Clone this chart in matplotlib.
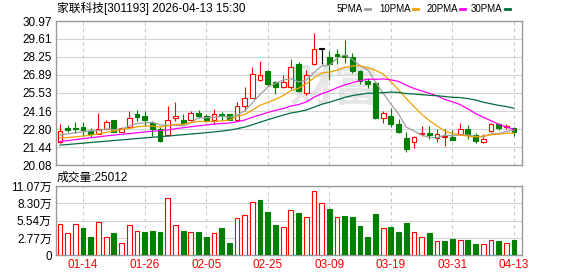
import matplotlib
matplotlib.use("Agg")
import numpy as np
import matplotlib.pyplot as plt
from matplotlib.lines import Line2D

plt.rcParams['font.family'] = ['Liberation Sans', 'Noto Sans CJK SC']

TITLE = "家联科技[301193] 2026-04-13 15:30"
DATE_IDX = [3, 11, 19, 27, 35, 43, 51, 59]
DATE_LABELS = ["01-14", "01-26", "02-05", "02-25", "03-09", "03-19", "03-31", "04-13"]
PRICE_TICKS = [20.08, 21.44, 22.80, 24.16, 25.53, 26.89, 28.25, 29.61, 30.97]
VOL_TICKS = [0, 2.77, 5.54, 8.30, 11.07]
VOL_TICK_LABELS = ["0", "2.77万", "5.54万", "8.30万", "11.07万"]

# daily candles, 60 sessions (01-09 .. 04-13)
OPEN = [21.84, 22.87, 22.85, 22.92, 22.67, 22.44, 22.84, 23.47, 22.59, 22.97,
        23.93, 23.80, 23.22, 22.84, 22.34, 23.60, 23.45, 23.52, 24.00, 23.78,
        23.52, 23.93, 23.90, 23.45, 24.56, 25.18, 26.52, 27.17, 26.37, 26.01,
        25.96, 27.75, 25.49, 27.70, 28.88, 28.28, 28.45, 28.43, 28.23, 27.20,
        26.44, 26.27, 23.60, 23.78, 23.17, 22.09, 21.84, 22.39, 22.49, 22.14,
        22.16, 22.19, 22.42, 22.84, 22.34, 21.79, 22.67, 23.17, 22.94, 22.89]
HIGH = [23.17, 23.10, 23.30, 23.35, 22.90, 24.03, 23.45, 23.50, 22.94, 24.15,
        24.23, 24.15, 23.40, 22.97, 24.56, 24.81, 23.90, 24.13, 24.23, 23.90,
        24.33, 24.10, 23.93, 24.81, 25.99, 27.50, 27.95, 27.25, 26.47, 26.87,
        28.08, 27.88, 27.30, 30.06, 28.96, 28.68, 28.88, 29.54, 28.53, 27.25,
        26.67, 26.37, 24.15, 24.40, 23.55, 22.54, 22.29, 23.02, 23.02, 22.77,
        22.77, 22.69, 23.27, 23.10, 22.47, 22.42, 23.22, 23.22, 23.20, 22.97]
LOW = [21.71, 22.54, 22.47, 22.29, 22.19, 22.39, 22.79, 22.54, 22.54, 22.92,
       23.40, 23.05, 22.29, 21.79, 22.29, 23.40, 23.10, 23.40, 23.60, 23.30,
       23.15, 23.45, 23.45, 23.40, 24.18, 25.11, 26.42, 26.04, 25.46, 25.91,
       25.86, 25.61, 25.41, 27.62, 27.70, 26.54, 27.75, 27.80, 27.00, 26.24,
       25.91, 23.55, 23.22, 22.97, 22.52, 21.03, 21.33, 22.29, 22.04, 21.84,
       21.54, 21.99, 22.34, 22.07, 21.76, 21.74, 22.59, 22.72, 22.77, 22.29]
CLOSE = [22.67, 22.74, 22.83, 22.72, 22.39, 22.77, 23.30, 22.59, 22.89, 23.60,
         23.73, 23.47, 22.84, 21.89, 23.45, 23.78, 23.25, 23.98, 23.80, 23.45,
         23.90, 23.78, 23.50, 24.56, 25.11, 26.97, 26.92, 26.22, 26.01, 26.37,
         27.52, 25.66, 26.92, 28.88, 28.88, 27.72, 28.30, 28.25, 27.20, 26.42,
         26.19, 23.67, 24.05, 23.17, 22.59, 21.26, 22.19, 22.49, 22.34, 22.42,
         22.24, 21.99, 22.77, 22.34, 21.91, 22.01, 23.17, 22.89, 23.05, 22.54]
# volume in 万手
VOLUME = [4.95, 3.51, 4.95, 4.36, 2.93, 5.27, 2.87, 3.57, 1.92, 4.79,
          3.83, 3.73, 3.89, 3.73, 9.10, 4.79, 3.89, 3.67, 3.73, 2.93,
          3.51, 4.36, 1.97, 5.91, 6.39, 8.46, 8.83, 6.97, 4.84, 4.52,
          7.24, 6.76, 6.07, 10.22, 8.30, 7.40, 6.07, 6.28, 6.12, 4.68,
          2.93, 6.60, 4.31, 4.52, 3.73, 5.16, 3.67, 2.87, 3.57, 2.24,
          2.29, 2.61, 2.45, 2.50, 1.81, 1.76, 2.45, 2.29, 1.97, 2.5012]

MA5 = [22.35, 22.43, 22.52, 22.60, 22.67, 22.69, 22.80, 22.75, 22.79, 23.03,
       23.22, 23.26, 23.31, 23.11, 23.08, 23.09, 23.04, 23.27, 23.65, 23.65,
       23.68, 23.78, 23.69, 23.84, 24.17, 24.78, 25.41, 25.96, 26.25, 26.50,
       26.61, 26.36, 26.50, 27.07, 27.57, 27.61, 28.14, 28.41, 28.07, 27.58,
       27.27, 26.35, 25.51, 24.70, 23.93, 22.95, 22.65, 22.34, 22.17, 22.14,
       22.34, 22.30, 22.35, 22.35, 22.25, 22.20, 22.44, 22.46, 22.61, 22.73]
MA10 = [22.12, 22.16, 22.21, 22.27, 22.34, 22.43, 22.55, 22.66, 22.76, 22.85,
        22.96, 23.03, 23.03, 22.95, 23.05, 23.15, 23.15, 23.29, 23.38, 23.36,
        23.38, 23.41, 23.48, 23.75, 23.91, 24.23, 24.60, 24.82, 25.04, 25.33,
        25.70, 25.88, 26.23, 26.66, 27.04, 27.11, 27.25, 27.45, 27.57, 27.58,
        27.44, 27.24, 26.96, 26.39, 25.76, 25.11, 24.50, 23.92, 23.44, 23.04,
        22.64, 22.47, 22.35, 22.26, 22.20, 22.27, 22.37, 22.41, 22.48, 22.49]
MA20 = [21.85, 21.93, 22.00, 22.07, 22.14, 22.21, 22.28, 22.34, 22.40, 22.45,
        22.52, 22.58, 22.63, 22.68, 22.74, 22.82, 22.90, 22.97, 23.04, 23.11,
        23.17, 23.22, 23.25, 23.35, 23.48, 23.69, 23.87, 24.05, 24.21, 24.35,
        24.54, 24.65, 24.85, 25.20, 25.47, 25.67, 25.92, 26.14, 26.31, 26.45,
        26.57, 26.56, 26.59, 26.52, 26.40, 26.11, 25.87, 25.69, 25.50, 25.31,
        25.04, 24.86, 24.65, 24.32, 23.98, 23.69, 23.43, 23.17, 22.96, 22.76]
MA30 = [21.58, 21.63, 21.68, 21.73, 21.78, 21.83, 21.88, 21.93, 21.98, 22.03,
        22.08, 22.13, 22.18, 22.22, 22.27, 22.32, 22.37, 22.42, 22.47, 22.52,
        22.58, 22.64, 22.72, 22.82, 22.95, 23.12, 23.32, 23.50, 23.68, 23.85,
        24.01, 24.11, 24.24, 24.45, 24.67, 24.83, 25.00, 25.19, 25.33, 25.42,
        25.51, 25.51, 25.55, 25.60, 25.57, 25.48, 25.45, 25.40, 25.35, 25.32,
        25.26, 25.20, 25.18, 25.10, 25.00, 24.83, 24.71, 24.59, 24.50, 24.37]

MA_NAMES = ["5PMA", "10PMA", "20PMA", "30PMA"]
MA_COLORS = ["#a0a0a0", "#f0a000", "#ff00ff", "#006e3c"]

RED = "#ff0000"
GREEN = "#008000"
FRAME = "#999999"
GRID = "#d4d4d4"

W, H = 578, 276
fig = plt.figure(figsize=(W / 100, H / 100), dpi=100)
ax = fig.add_axes([56 / W, 1 - 165 / H, 466 / W, 144 / H])
axv = fig.add_axes([56 / W, 1 - 255.3 / H, 466 / W, 69.3 / H])

o = np.array(OPEN)
c = np.array(CLOSE)
x = np.arange(len(c))

cand_col = np.where(c > o, RED, np.where(c < o, GREEN, "#000000"))
cand_face = np.where(c > o, "white", cand_col)

ax.vlines(x, LOW, HIGH, colors=cand_col, linewidth=0.8, zorder=2)
body = np.maximum(np.abs(c - o), 0.02)
ax.bar(x, body, bottom=np.minimum(o, c), width=0.62, facecolor=cand_face,
       edgecolor=cand_col, linewidth=0.8, zorder=3)

for vals, col in zip([MA5, MA10, MA20, MA30], MA_COLORS):
    ax.plot(x, vals, color=col, linewidth=0.9, zorder=4)

# faint watermark behind the candles
ax.text(35.6, 25.9, "财富", fontsize=32, fontweight="bold", color="#e6e6e6",
        ha="center", va="center", zorder=0.5,
        family=['Noto Sans CJK SC'])

prev = np.concatenate([[c[0]], c[:-1]])
vol_col = np.where(c >= prev, RED, GREEN)
vol_face = np.where(c >= prev, "white", GREEN)
axv.bar(x, VOLUME, width=0.62, facecolor=vol_face, edgecolor=vol_col,
        linewidth=0.8, zorder=3)

for a in (ax, axv):
    a.set_xlim(-0.52, 60.04)
    a.set_xticks(DATE_IDX)
    a.xaxis.grid(True, color="#c8c8c8", linestyle=(0, (3, 3)), linewidth=0.8)
    a.yaxis.grid(True, color=GRID, linewidth=0.8)
    a.set_axisbelow(True)
    for s in a.spines.values():
        s.set_color(FRAME)
        s.set_linewidth(1.0)
    a.tick_params(length=0, labelsize=8.5, pad=3)

ax.set_ylim(PRICE_TICKS[0], PRICE_TICKS[-1])
ax.set_yticks(PRICE_TICKS, [f"{t:.2f}" for t in PRICE_TICKS])
ax.set_xticklabels([])

axv.set_ylim(VOL_TICKS[0], VOL_TICKS[-1])
axv.set_yticks(VOL_TICKS, VOL_TICK_LABELS)
axv.set_xticklabels(DATE_LABELS, color=RED)

fig.text(57 / W, 1 - 8.5 / H, TITLE, fontsize=8.5, va="center", ha="left")
fig.text(57 / W, 1 - 177.7 / H, f"成交量:{VOLUME[-1] * 1e4:.0f}", fontsize=8.5,
         va="center", ha="left")

# legend row: name right-aligned just before its coloured dash
leg_line_x = [364.7, 413.0, 459.7, 504.7]
for name, col, lx in zip(MA_NAMES, MA_COLORS, leg_line_x):
    fig.text((lx - 2) / W, 1 - 8.5 / H, name, fontsize=7, va="center", ha="right")
    fig.add_artist(Line2D([lx / W, (lx + 5) / W], [1 - 8.5 / H, 1 - 8.5 / H],
                          transform=fig.transFigure, color=col, linewidth=2))

fig.savefig("out.png", dpi=100)
